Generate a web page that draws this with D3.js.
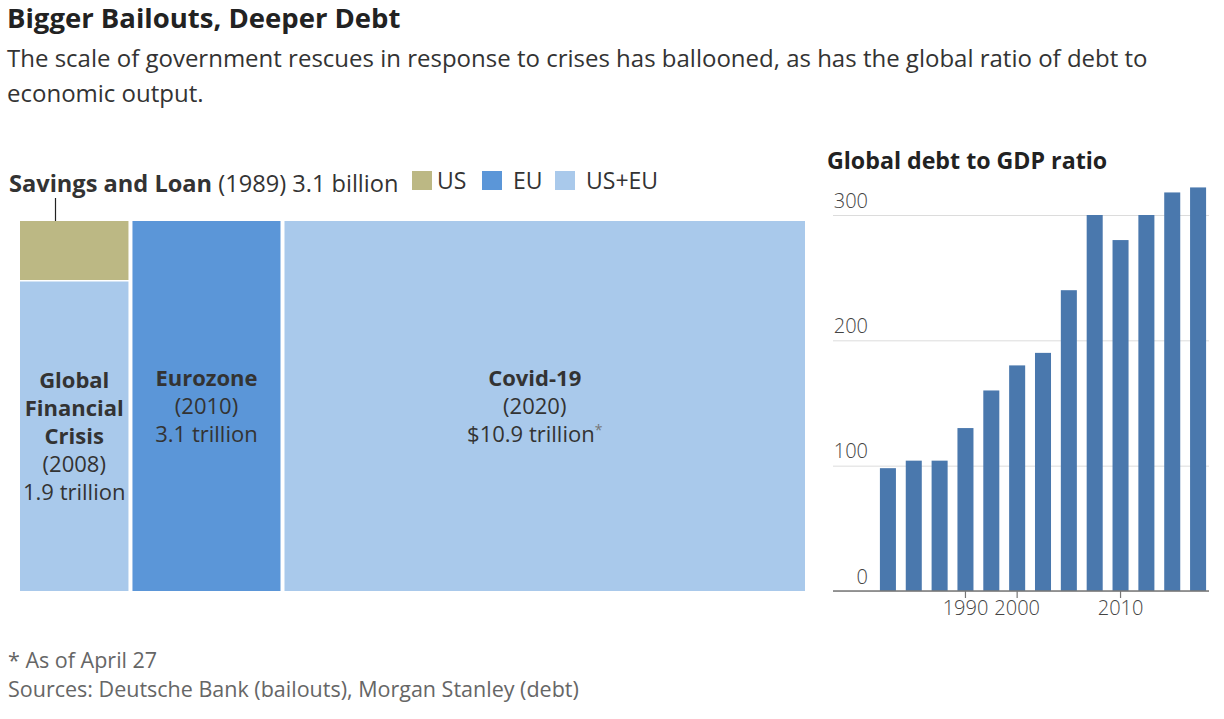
<!DOCTYPE html>
<html>
<head>
<meta charset="utf-8">
<script src="https://cdn.jsdelivr.net/npm/d3@7"></script>
<style>
  body { margin: 0; background: #fff; }
  svg { display: block; font-family: "Open Sans", "Noto Sans", sans-serif; }
  .title { font-size: 27.5px; font-weight: 700; fill: #222; }
  .sub { font-size: 24px; fill: #333; }
  .note { font-size: 21.5px; fill: #666; }
  .boxlabel { font-size: 22px; fill: #333; }
  .axis text { font-size: 20px; fill: #444; font-family: "Open Sans", sans-serif; }
</style>
</head>
<body>
<svg id="chart" width="1224" height="719"></svg>
<script>
// bailouts (trillions of dollars)
var crisisNames = [["Global", "Financial", "Crisis"], ["Eurozone"], ["Covid-19"]];
var crisisYears = ["2008", "2010", "2020"];
var crisisValues = [1.9, 3.1, 10.9];
var crisisValueLabels = ["1.9 trillion", "3.1 trillion", "$10.9 trillion"];
var crisisRegions = ["US+EU", "EU", "US+EU"];

// the small one on top of the first column
var savingsName = "Savings and Loan";
var savingsYear = "1989";
var savingsLabel = "3.1 billion";
var savingsRegion = "US";

var regions = ["US", "EU", "US+EU"];

// global debt to GDP ratio
var debtYears = ["1975", "1980", "1985", "1990", "1995", "2000", "2003", "2006", "2008", "2010", "2013", "2016", "2019"];
var debtRatio = [98, 104, 104, 130, 160, 180, 190, 240, 300, 280, 300, 318, 322];
var debtTicks = [0, 100, 200, 300];
var debtYearLabels = ["1990", "2000", "2010"];

var svg = d3.select("#chart");

var color = d3.scaleOrdinal()
  .domain(regions)
  .range(["#bcb884", "#5b96d8", "#a9c9eb"]);

// header
svg.append("text").attr("class", "title").attr("x", 7).attr("y", 28)
  .text("Bigger Bailouts, Deeper Debt");
svg.append("text").attr("class", "sub").attr("x", 7).attr("y", 67)
  .text("The scale of government rescues in response to crises has ballooned, as has the global ratio of debt to");
svg.append("text").attr("class", "sub").attr("x", 7).attr("y", 102)
  .text("economic output.");

// footer
svg.append("text").attr("class", "note").attr("x", 8).attr("y", 668)
  .text("* As of April 27");
svg.append("text").attr("class", "note").attr("x", 8).attr("y", 697)
  .text("Sources: Deutsche Bank (bailouts), Morgan Stanley (debt)");

/* ---------- left: bailout blocks ---------- */
var box = {left: 20, right: 805, top: 221, bottom: 591, gap: 4, topBox: 59};
var fullH = box.bottom - box.top;
var gfcH = fullH - box.topBox - 1.5;

// width per trillion so that area stays proportional (first column is shorter)
var stretch = fullH / gfcH;
var weights = crisisValues.map(function(v, i) { return i == 0 ? v * stretch : v; });
var w = d3.scaleLinear()
  .domain([0, d3.sum(weights)])
  .range([0, box.right - box.left - box.gap * (crisisValues.length - 1)]);

var cols = [];
var cx = box.left;
weights.forEach(function(v, i) {
  var cw = w(v);
  var y0 = i == 0 ? box.top + box.topBox + 1.5 : box.top;
  cols.push({i: i, x: cx, w: cw, y: y0, h: box.bottom - y0});
  cx += cw + box.gap;
});

var left = svg.append("g");

left.selectAll(".block")
  .data(cols)
  .enter()
  .append("rect")
  .attr("class", "block")
  .attr("x", function(d) { return d.x; })
  .attr("y", function(d) { return d.y; })
  .attr("width", function(d) { return d.w; })
  .attr("height", function(d) { return d.h; })
  .attr("fill", function(d) { return color(crisisRegions[d.i]); });

// savings and loan box
left.append("rect")
  .attr("x", cols[0].x)
  .attr("y", box.top)
  .attr("width", cols[0].w)
  .attr("height", box.topBox)
  .attr("fill", color(savingsRegion));

left.append("line")
  .attr("x1", 55.5).attr("x2", 55.5)
  .attr("y1", 198).attr("y2", box.top)
  .attr("stroke", "#222").attr("stroke-width", 1.2);

var snl = svg.append("text").attr("x", 9).attr("y", 192).attr("font-size", 23.6).attr("fill", "#333");
snl.append("tspan").attr("font-weight", 700).text(savingsName);
snl.append("tspan").text(" (" + savingsYear + ") " + savingsLabel);

// legend
var legendX = [412, 482, 555];
var legend = svg.selectAll(".leg")
  .data(regions)
  .enter()
  .append("g")
  .attr("class", "leg")
  .attr("transform", function(d, i) { return "translate(" + legendX[i] + ",171)"; });
legend.append("rect").attr("width", 20).attr("height", 19).attr("fill", color);
legend.append("text")
  .attr("x", function(d, i) { return i == 0 ? 25 : 31; })
  .attr("y", 18)
  .attr("font-size", 23)
  .attr("fill", "#333")
  .text(function(d) { return d; });

// labels inside the blocks, centred vertically
var lineH = 28;
cols.forEach(function(c) {
  var lines = crisisNames[c.i].map(function(t) { return {t: t, bold: true}; })
    .concat([{t: "(" + crisisYears[c.i] + ")"}, {t: crisisValueLabels[c.i]}]);
  var mid = c.y + c.h / 2;
  var first = mid - (lines.length - 1) * lineH / 2;
  var xc = c.x + c.w / 2;
  if (c.i == 2) xc -= 10;
  var t = left.append("text").attr("class", "boxlabel").attr("text-anchor", "middle");
  lines.forEach(function(l, j) {
    t.append("tspan")
      .attr("x", xc)
      .attr("y", first + j * lineH + 8)
      .attr("font-weight", l.bold ? 700 : 400)
      .text(l.t);
  });
  if (c.i == 2) {
    t.append("tspan").attr("font-size", 14).attr("fill", "#777").attr("dy", -7).text("*");
  }
});

/* ---------- right: debt to GDP bars ---------- */
var gridLeft = 833, gridRight = 1209;

svg.append("text")
  .attr("x", 827).attr("y", 169)
  .attr("font-size", 23.2).attr("font-weight", 700).attr("fill", "#222")
  .text("Global debt to GDP ratio");

var y = d3.scaleLinear()
  .domain([0, 300])
  .range([591, 215]);

var x = d3.scaleBand()
  .domain(debtYears)
  .range([875, 1211])
  .paddingInner(0.38)
  .paddingOuter(0.19);

// gridlines with labels sitting above them
var grid = svg.append("g").attr("class", "axis")
  .attr("transform", "translate(" + gridLeft + ",0)")
  .call(d3.axisRight(y)
    .tickValues(debtTicks)
    .tickSize(gridRight - gridLeft)
    .tickFormat(d3.format("d")));
grid.select(".domain").remove();
grid.selectAll(".tick line").attr("stroke", "#dcdcdc").attr("stroke-width", 1);
grid.selectAll(".tick text")
  .attr("x", 35)
  .attr("dy", -8)
  .attr("text-anchor", "end")
  .attr("font-weight", 300);

svg.append("g")
  .selectAll(".bar")
  .data(debtRatio)
  .enter()
  .append("rect")
  .attr("class", "bar")
  .attr("x", function(d, i) { return x(debtYears[i]); })
  .attr("y", function(d) { return y(d); })
  .attr("width", x.bandwidth())
  .attr("height", function(d) { return y(0) - y(d); })
  .attr("fill", "#4a78ad");

// baseline and year ticks
var xAxis = svg.append("g").attr("class", "axis")
  .attr("transform", "translate(0," + y(0) + ")")
  .call(d3.axisBottom(x).tickValues(debtYearLabels).tickSize(7).tickSizeOuter(0).tickPadding(3));
xAxis.select(".domain").remove();
xAxis.selectAll(".tick line").attr("stroke", "#777").attr("stroke-width", 1.2);
xAxis.selectAll(".tick text").attr("fill", "#333").attr("font-weight", 300);

svg.append("line")
  .attr("x1", gridLeft).attr("x2", gridRight)
  .attr("y1", y(0)).attr("y2", y(0))
  .attr("stroke", "#777").attr("stroke-width", 1.5);
</script>
</body>
</html>
